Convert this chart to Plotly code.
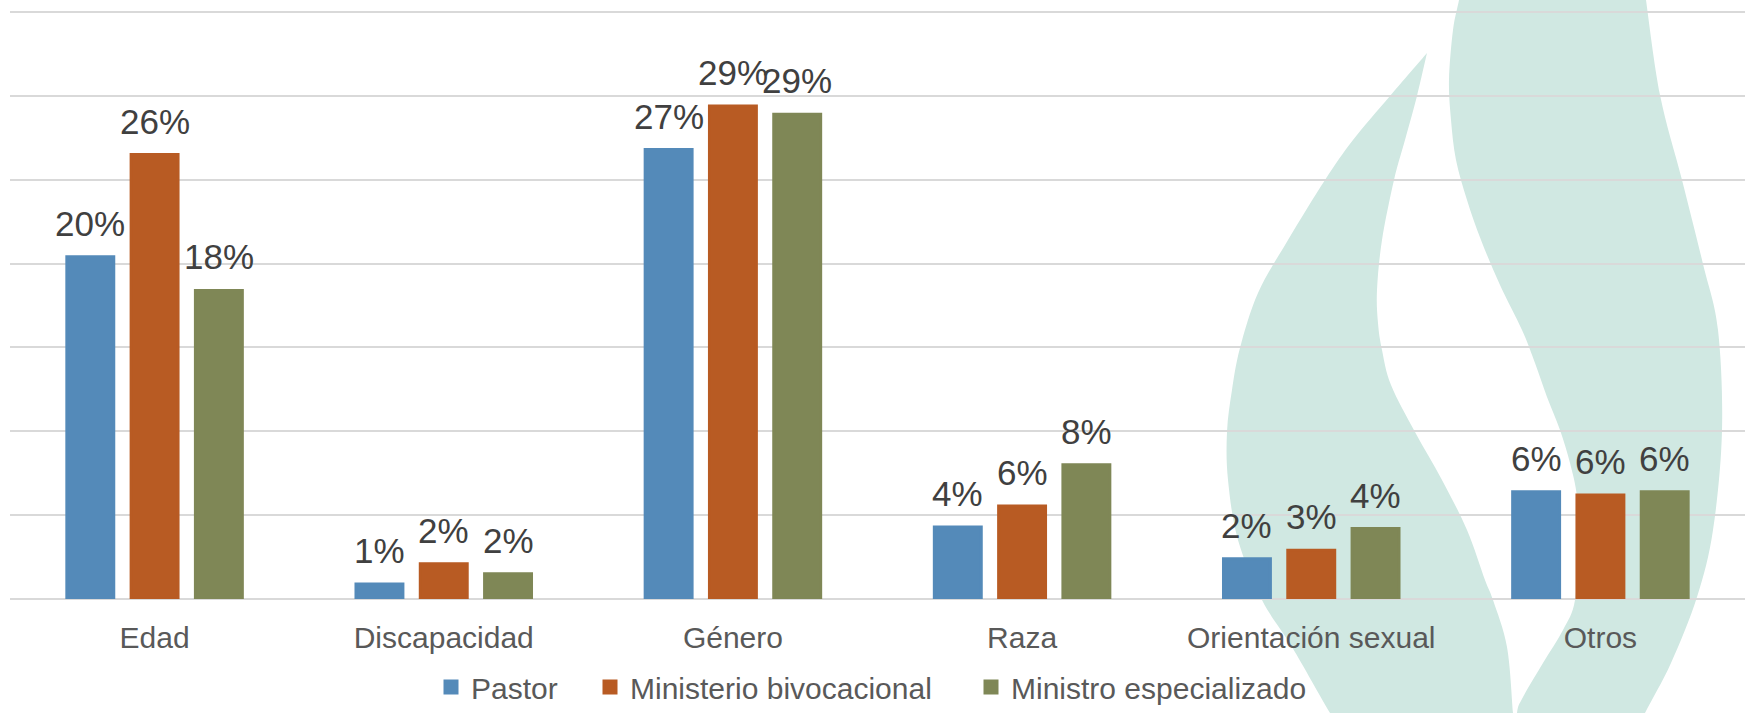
import plotly.graph_objects as go

# ---- data -------------------------------------------------------------
categories = ["Edad", "Discapacidad", "Género", "Raza", "Orientación sexual", "Otros"]
series_names = ["Pastor", "Ministerio bivocacional", "Ministro especializado"]
pastor = [20.4, 0.9, 26.8, 4.3, 2.4, 6.4]
bivocacional = [26.5, 2.1, 29.4, 5.55, 2.9, 6.2]
especializado = [18.4, 1.5, 28.9, 8.0, 4.2, 6.4]
y_ticks = [0, 5, 10, 15, 20, 25, 30, 35]

# ---- styling ----------------------------------------------------------
colors = ["#548AB9", "#B85B23", "#7F8756"]
flame_color = "#D0E8E2"
grid_color = "#D9D9D9"
label_color = "#404040"
tick_color = "#595959"

W, H = 1745, 713
M_L, M_R, M_T, M_B = 10, 0, 11, 114
PLOT_W = W - M_L - M_R
PLOT_H = H - M_T - M_B
Y_MAX = 35.06
BARGAP = 0.333
BAR_EDGE = 3          # bar outline (same colour as fill), also enlarges legend swatches
BARGROUPGAP = 0.27

# background flame outline (pixel coordinates of the page)
flame_left_right_edge = [(1427, 53), (1417, 96), (1405, 140), (1394, 180), (1382, 240),
                         (1377, 290), (1378, 323), (1382, 350), (1391, 385), (1415, 432),
                         (1442, 480), (1467, 530), (1485, 580), (1493, 600), (1507, 647),
                         (1513, 713), (1515, 745)]
flame_left_left_edge = [(1350, 745), (1330, 713), (1292, 647), (1262, 600), (1238, 540),
                        (1228, 480), (1227, 432), (1232, 390), (1240, 348), (1258, 293),
                        (1288, 240), (1325, 180), (1353, 140), (1390, 96), (1427, 53)]
flame_right_left_edge = [(1460, -10), (1459, 0), (1453, 30), (1449, 80), (1451, 120),
                         (1456, 160), (1467, 200), (1481, 240), (1500, 285), (1522, 330),
                         (1535, 363), (1547, 397), (1560, 430), (1570, 463), (1577, 497),
                         (1578, 540), (1575, 600), (1563, 630), (1543, 663), (1523, 697),
                         (1517, 713), (1516, 745)]
flame_right_right_edge = [(1630, 745), (1645, 713), (1671, 663), (1697, 597), (1713, 530),
                          (1722, 431), (1718, 330), (1703, 264), (1682, 180), (1660, 95),
                          (1646, 0), (1645, -10)]


def to_paper(pt):
    x, y = pt
    return (x - M_L) / PLOT_W, (H - M_B - y) / PLOT_H


def smooth(points):
    """Catmull-Rom curve through points, returned as SVG cubic segments."""
    p = [to_paper(q) for q in points]
    ext = [p[0]] + p + [p[-1]]
    segs = []
    for i in range(1, len(ext) - 2):
        p0, p1, p2, p3 = ext[i - 1], ext[i], ext[i + 1], ext[i + 2]
        c1 = (p1[0] + (p2[0] - p0[0]) / 6, p1[1] + (p2[1] - p0[1]) / 6)
        c2 = (p2[0] - (p3[0] - p1[0]) / 6, p2[1] - (p3[1] - p1[1]) / 6)
        segs.append(f"C{c1[0]:.5f},{c1[1]:.5f} {c2[0]:.5f},{c2[1]:.5f} {p2[0]:.5f},{p2[1]:.5f}")
    return segs


def outline(edge_a, edge_b):
    start = to_paper(edge_a[0])
    b0 = to_paper(edge_b[0])
    path = [f"M{start[0]:.5f},{start[1]:.5f}"] + smooth(edge_a)
    path.append(f"L{b0[0]:.5f},{b0[1]:.5f}")
    path += smooth(edge_b)
    path.append("Z")
    return " ".join(path)


fig = go.Figure()

series_values = [pastor, bivocacional, especializado]
legend_ids = ["legend", "legend2", "legend3"]
for name, vals, col, lg in zip(series_names, series_values, colors, legend_ids):
    fig.add_trace(go.Bar(
        x=categories, y=vals, name=name,
        marker=dict(color=col, line=dict(width=BAR_EDGE, color=col)),
        legend=lg, hoverinfo="skip",
    ))

# value labels above each bar
slot_px = PLOT_W / len(categories) * (1 - BARGAP) / len(series_names)
annotations = []
for j, vals in enumerate(series_values):
    for cat, v in zip(categories, vals):
        annotations.append(dict(
            x=cat, y=v, xref="x", yref="y", text=f"{v:.0f}%",
            showarrow=False, yanchor="bottom", xanchor="center",
            xshift=(j - 1) * slot_px, yshift=12,
            font=dict(family="Liberation Sans, Arial, sans-serif", size=35, color=label_color),
        ))

shapes = [
    dict(type="path", xref="paper", yref="paper", layer="below",
         path=outline(flame_left_right_edge, flame_left_left_edge),
         fillcolor=flame_color, line=dict(width=0)),
    dict(type="path", xref="paper", yref="paper", layer="below",
         path=outline(flame_right_left_edge, flame_right_right_edge),
         fillcolor=flame_color, line=dict(width=0)),
]

legend_font = dict(family="Liberation Sans, Arial, sans-serif", size=30, color=tick_color)


def legend_at(x_px):
    return dict(orientation="h", xref="container", yref="container",
                x=x_px / W, y=(H - 661) / H, xanchor="left", yanchor="top",
                bgcolor="rgba(0,0,0,0)", font=legend_font)


fig.update_layout(
    width=W, height=H,
    margin=dict(l=M_L, r=M_R, t=M_T, b=M_B, pad=0),
    paper_bgcolor="white", plot_bgcolor="rgba(0,0,0,0)",
    barmode="group", bargap=BARGAP, bargroupgap=BARGROUPGAP,
    showlegend=True,
    legend=legend_at(431), legend2=legend_at(590), legend3=legend_at(971),
    annotations=annotations, shapes=shapes,
    xaxis=dict(
        showgrid=False, showline=False, zeroline=False, ticks="",
        tickfont=dict(family="Liberation Sans, Arial, sans-serif", size=30, color=tick_color),
        ticklabelstandoff=18,
    ),
    yaxis=dict(
        range=[0, Y_MAX], tickvals=y_ticks, showticklabels=False,
        showgrid=True, gridcolor=grid_color, gridwidth=1.5,
        zeroline=True, zerolinecolor=grid_color, zerolinewidth=1.5,
        showline=False, ticks="",
    ),
)

fig.write_html("out.html")
